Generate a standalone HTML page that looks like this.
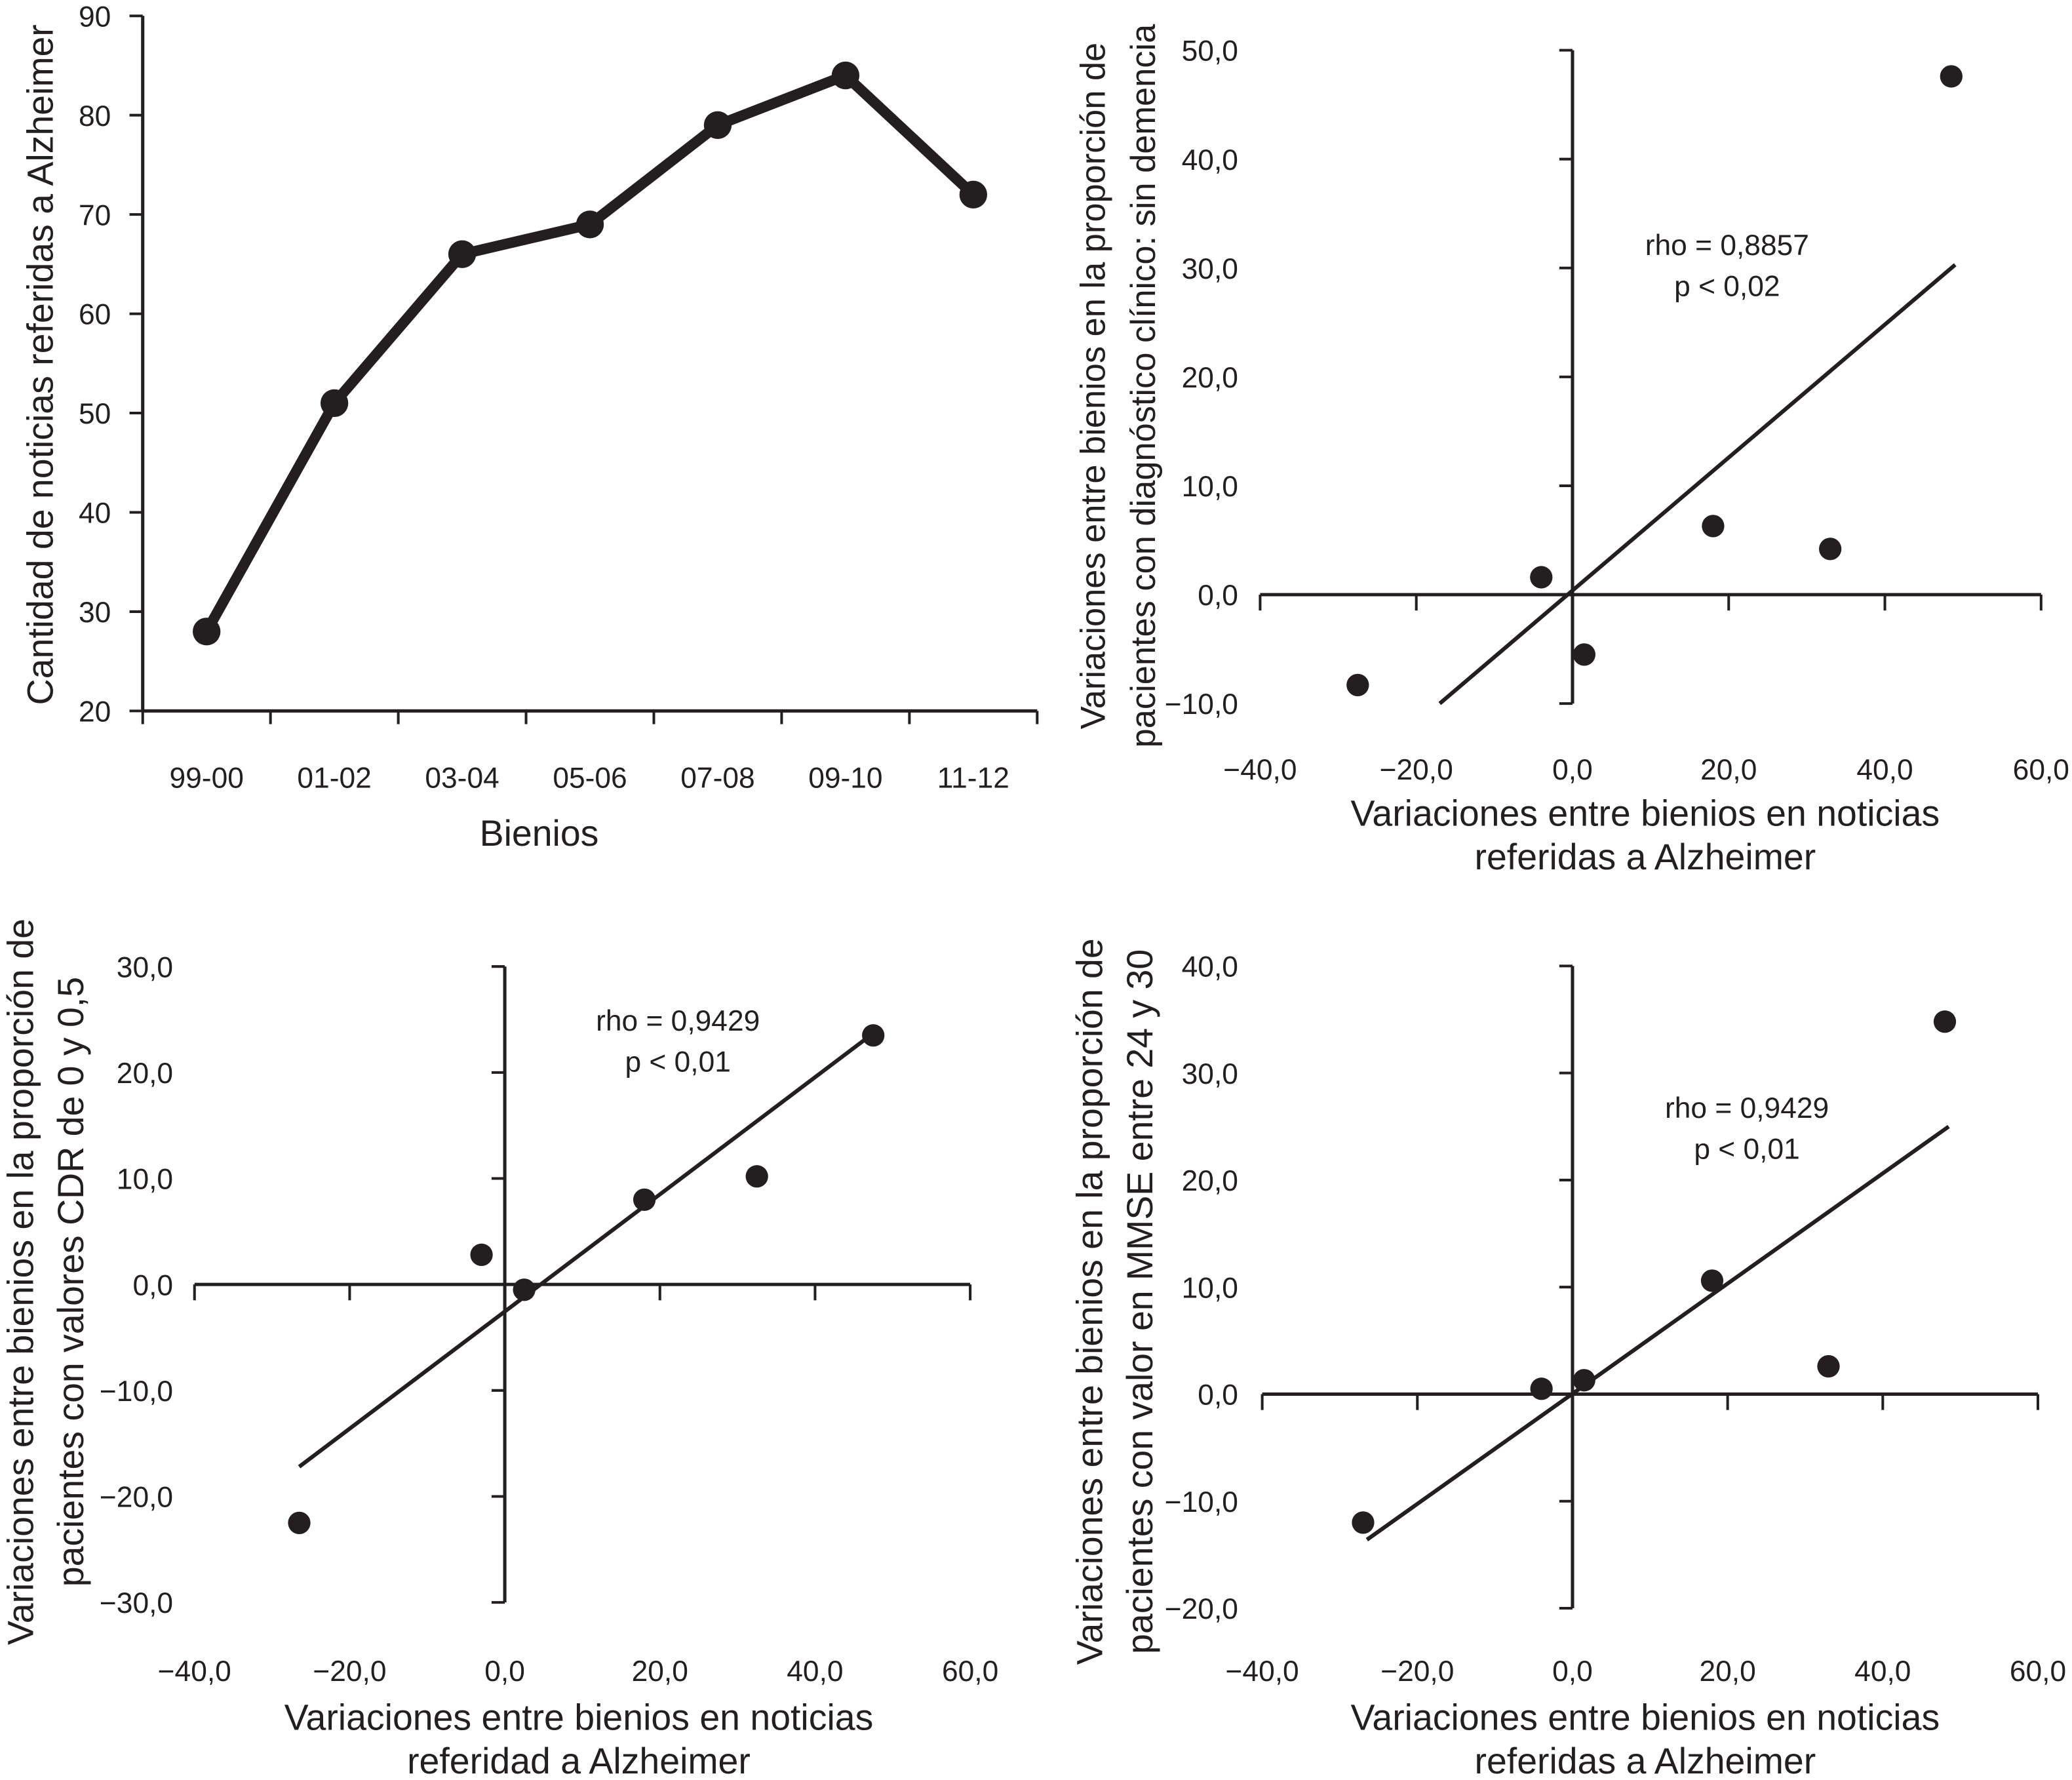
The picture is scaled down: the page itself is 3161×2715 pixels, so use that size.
<!DOCTYPE html>
<html><head><meta charset="utf-8"><style>
html,body{margin:0;padding:0;background:#fff;}
svg{display:block;font-family:"Liberation Sans",sans-serif;fill:#231f20;}
</style></head><body>
<svg id="root" width="3161" height="2715" viewBox="0 0 1568 1347" preserveAspectRatio="none" xmlns="http://www.w3.org/2000/svg">
<g id="g1"></g>
<g id="g2"></g>
<g id="g3"></g>
<g id="g4"></g>
</svg>
<script>
const categories=["99-00","01-02","03-04","05-06","07-08","09-10","11-12"];
const newsCounts=[28,51,66,69,79,84,72];
const yTicks1=[20,30,40,50,60,70,80,90];
const scX=[-40,-20,0,20,40,60];
const s2x=[-27.5,-4,1.5,18,33,48.5];
const s2y=[-8.3,1.6,-5.5,6.3,4.2,47.6];
const s2fit=[[-17,-10],[49,30.3]];
const s2yt=[-10,0,10,20,30,40,50];
const s3x=[-26.5,-3,2.5,18,32.5,47.5];
const s3y=[-22.5,2.8,-0.5,8,10.2,23.5];
const s3fit=[[-26.5,-17.2],[47.5,23.7]];
const s3yt=[-30,-20,-10,0,10,20,30];
const s4x=[-27,-4,1.5,18,33,48];
const s4y=[-12,0.5,1.3,10.6,2.6,34.8];
const s4fit=[[-26.5,-13.6],[48.5,25]];
const s4yt=[-20,-10,0,10,20,30,40];
const NS="http://www.w3.org/2000/svg";
const TS=22, TT=27.5;
function mk(p,t,a,txt){const e=document.createElementNS(NS,t);for(const k in a)e.setAttribute(k,a[k]);if(txt!=null)e.textContent=txt;p.appendChild(e);return e;}
const fmt=v=>(v<0?"\u2212":"")+Math.abs(v).toFixed(1).replace(".",",");
function ln(g,x1,y1,x2,y2,w){return mk(g,"line",{x1,y1,x2,y2,stroke:"#231f20","stroke-width":w||2.5});}
function txt(g,x,y,s,size,anchor,rot){const a={x,y,"font-size":size,"text-anchor":anchor||"middle"};if(rot)a.transform=`rotate(-90 ${x} ${y})`;return mk(g,"text",a,s);}

// chart 1
(function(){const g=document.getElementById("g1");
const X0=108,Y0=538,bw=96.7;const y=v=>538-(v-20)*7.514;const xc=i=>X0+bw*(i+0.5);
const ya=ln(g,X0,12,X0,Y0,2.5);
const xa=ln(g,X0,Y0,X0+bw*7,Y0,2.5);
yTicks1.forEach(v=>{ln(g,X0-10,y(v),X0,y(v),2);const t=txt(g,84,y(v)+8,String(v),TS,"end");});
for(let i=0;i<=7;i++)ln(g,X0+bw*i,Y0,X0+bw*i,Y0+10,2);
categories.forEach((c,i)=>{const t=txt(g,xc(i),596,c,TS);});
const pl=mk(g,"polyline",{points:newsCounts.map((v,i)=>xc(i)+","+y(v)).join(" "),fill:"none",stroke:"#231f20","stroke-width":8,"stroke-linejoin":"round"});

newsCounts.forEach((v,i)=>{const c=mk(g,"circle",{cx:xc(i),cy:y(v),r:10.5});});
const xt=txt(g,408,640,"Bienios",TT);
const yt=txt(g,40,276,"Cantidad de noticias referidas a Alzheimer",TT,"middle",true);
})();

function scatter(id,o){const g=document.getElementById(id);
const x=v=>o.x0+v*o.kx, y=v=>o.y0-v*o.ky;
const ya=ln(g,o.x0,y(o.yt[o.yt.length-1]),o.x0,y(o.yt[0]),2.5);
const xa=ln(g,x(scX[0]),o.y0,x(scX[scX.length-1]),o.y0,2.5);
o.yt.forEach(v=>{ln(g,o.x0-10,y(v),o.x0,y(v),2);const t=txt(g,o.ylx,y(v)+8,fmt(v),TS,"end");});
scX.forEach(v=>{ln(g,x(v),o.y0,x(v),o.y0+12,2);const t=txt(g,x(v),o.xly,fmt(v),TS);});
const f=ln(g,x(o.fit[0][0]),y(o.fit[0][1]),x(o.fit[1][0]),y(o.fit[1][1]),3);
o.xs.forEach((v,i)=>{const c=mk(g,"circle",{cx:x(v),cy:y(o.ys[i]),r:8.5});});
const r=txt(g,o.tx,o.ty,o.rho,TS);
const p=txt(g,o.tx,o.ty+31,o.p,TS);
o.xtitle.forEach((s,i)=>{const t=txt(g,o.xtx,o.xty+i*33,s,TT);});
o.ytitle.forEach((s,i)=>{const t=txt(g,o.ytx+i*38,o.yty,s,o.yts||TT,"middle",true);});
}
scatter("g2",{x0:1190,kx:5.91,y0:450,ky:8.24,yt:s2yt,xs:s2x,ys:s2y,fit:s2fit,ylx:937,xly:590,tx:1307,ty:193,rho:"rho = 0,8857",p:"p < 0,02",
 xtitle:["Variaciones entre bienios en noticias","referidas a Alzheimer"],xtx:1245,xty:625,yts:26,
 ytitle:["Variaciones entre bienios en la proporción de","pacientes con diagnóstico clínico: sin demencia"],ytx:836,yty:292});
scatter("g3",{x0:382,kx:5.87,y0:972,ky:8.02,yt:s3yt,xs:s3x,ys:s3y,fit:s3fit,ylx:131,xly:1272,tx:513,ty:780,rho:"rho = 0,9429",p:"p < 0,01",
 xtitle:["Variaciones entre bienios en noticias","referidad a Alzheimer"],xtx:438,xty:1309,
 ytitle:["Variaciones entre bienios en la proporción de","pacientes con valores CDR de 0 y 0,5"],ytx:25,yty:970});
scatter("g4",{x0:1190,kx:5.87,y0:1055,ky:8.1,yt:s4yt,xs:s4x,ys:s4y,fit:s4fit,ylx:937,xly:1272,tx:1322,ty:846,rho:"rho = 0,9429",p:"p < 0,01",
 xtitle:["Variaciones entre bienios en noticias","referidas a Alzheimer"],xtx:1245,xty:1309,
 ytitle:["Variaciones entre bienios en la proporción de","pacientes con valor en MMSE entre 24 y 30"],ytx:834,yty:985});
</script>
</body></html>
